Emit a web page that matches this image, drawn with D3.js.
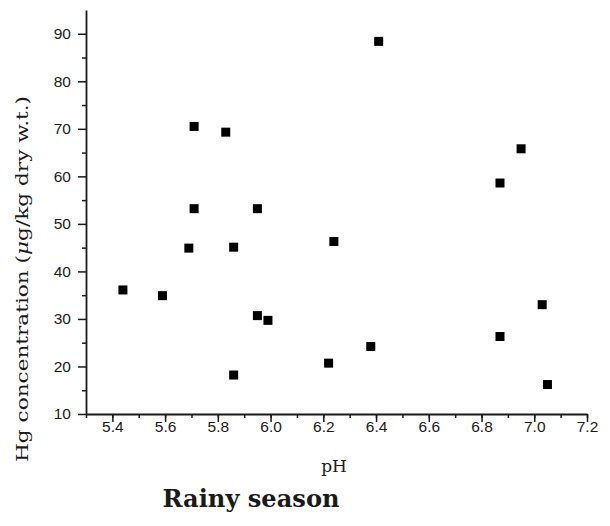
<!DOCTYPE html>
<html>
<head>
<meta charset="utf-8">
<script src="https://cdn.jsdelivr.net/npm/d3@7"></script>
<style>
    body { margin: 0; background: #fff; }
    svg text { fill: #1a1a1a; }
</style>
</head>
<body>
<div class="ScatterChart"></div>
<script>
// pH vs Hg concentration, rainy season
const phValues = [5.44, 5.59, 5.69, 5.71, 5.71, 5.83, 5.86, 5.86, 5.95, 5.95,
    5.99, 6.22, 6.24, 6.38, 6.41, 6.87, 6.87, 6.95, 7.03, 7.05];
const hgValues = [36.1, 34.9, 44.9, 53.2, 70.5, 69.3, 45.1, 18.2, 53.2, 30.7,
    29.7, 20.7, 46.3, 24.2, 88.4, 58.6, 26.3, 65.8, 33.0, 16.2];
const xTicks = [5.4, 5.6, 5.8, 6.0, 6.2, 6.4, 6.6, 6.8, 7.0, 7.2];
const yTicks = [10, 20, 30, 40, 50, 60, 70, 80, 90];

const points = phValues.map((ph, i) => ({ph: ph, hg: hgValues[i]}));

const svg = d3.select(".ScatterChart").append("svg")
    .attr("width", 610).attr("height", 526);

const margin = {top: 10, right: 23, bottom: 112, left: 86},
    width = 610 - margin.left - margin.right,
    height = 526 - margin.top - margin.bottom;

const g = svg.append("g").attr("transform", "translate(" + margin.left + "," + margin.top + ")");

const x = d3.scaleLinear().domain([5.3, 7.2]).range([0, width]);
const y = d3.scaleLinear().domain([10, 95]).range([height, 0]);

// minor ticks first, majors drawn on top
const xMinor = d3.range(5.3, 7.25, 0.1).map(v => +v.toFixed(1));
const yMinor = d3.range(15, 95, 10);

g.append("g")
    .attr("transform", "translate(0," + height + ")")
    .call(d3.axisBottom(x).tickValues(xMinor).tickSize(4).tickFormat(""))
    .call(a => a.select(".domain").remove())
    .selectAll("line").attr("stroke", "#1a1a1a").attr("stroke-width", 1.5);

g.append("g")
    .call(d3.axisLeft(y).tickValues(yMinor).tickSize(4).tickFormat(""))
    .call(a => a.select(".domain").remove())
    .selectAll("line").attr("stroke", "#1a1a1a").attr("stroke-width", 1.5);

const xAxis = g.append("g")
    .attr("transform", "translate(0," + height + ")")
    .call(d3.axisBottom(x).tickValues(xTicks).tickSize(8).tickSizeOuter(0)
        .tickFormat(d3.format(".1f")));

const yAxis = g.append("g")
    .call(d3.axisLeft(y).tickValues(yTicks).tickSize(8).tickSizeOuter(0));

[xAxis, yAxis].forEach(a => {
    a.select(".domain").attr("stroke", "#1a1a1a").attr("stroke-width", 1.8);
    a.selectAll(".tick line").attr("stroke", "#1a1a1a").attr("stroke-width", 1.5);
    a.selectAll(".tick text")
        .attr("font-family", "Liberation Sans, Arial, sans-serif")
        .attr("font-size", "15.5px")
        .attr("fill", "#1a1a1a");
});
xAxis.selectAll(".tick text").attr("y", 7);
yAxis.selectAll(".tick text").attr("x", -15);

// markers
g.append("g")
    .selectAll("rect")
    .data(points)
    .enter().append("rect")
    .attr("x", d => x(d.ph) - 4.5)
    .attr("y", d => y(d.hg) - 4.5)
    .attr("width", 9)
    .attr("height", 9)
    .attr("fill", "#000");

// axis titles
const serif = "DejaVu Serif, Liberation Serif, serif";

svg.append("text")
    .attr("x", 334)
    .attr("y", 472)
    .attr("text-anchor", "middle")
    .attr("font-family", serif)
    .attr("font-size", "17px")
    .text("pH");

const yLabel = svg.append("text")
    .attr("transform", "translate(28,279) rotate(-90)")
    .attr("text-anchor", "middle")
    .attr("font-family", serif)
    .attr("font-size", "16.5px")
    .attr("textLength", 366)
    .attr("lengthAdjust", "spacingAndGlyphs");
yLabel.append("tspan").text("Hg concentration (");
yLabel.append("tspan").attr("font-style", "italic").text("μ");
yLabel.append("tspan").text("g/kg dry w.t.)");

svg.append("text")
    .attr("x", 251)
    .attr("y", 507)
    .attr("text-anchor", "middle")
    .attr("font-family", serif)
    .attr("font-weight", "bold")
    .attr("font-size", "24px")
    .attr("textLength", 177)
    .attr("lengthAdjust", "spacingAndGlyphs")
    .text("Rainy season");
</script>
</body>
</html>
